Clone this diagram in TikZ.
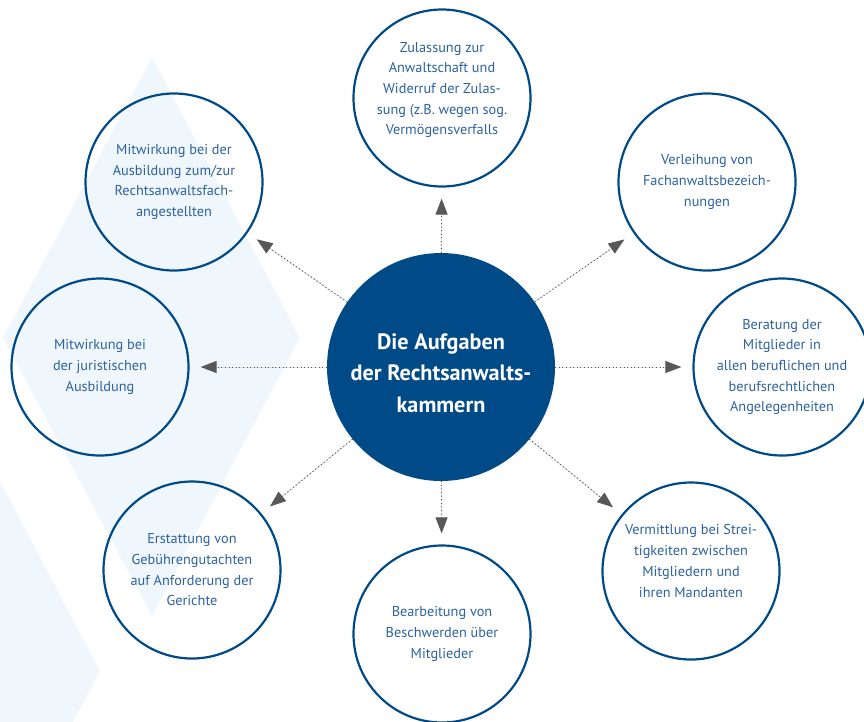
\documentclass[tikz,border=0pt]{standalone}
\usepackage{fontspec}
\setmainfont{PT Sans}
\usepackage{tikz}
\usetikzlibrary{arrows.meta}

\definecolor{rakblue}{RGB}{0,75,135}
\definecolor{tasktext}{RGB}{45,98,158}
\definecolor{linegray}{RGB}{88,88,88}
\definecolor{bgblue}{RGB}{239,247,252}

\newcommand{\taskfont}{\fontsize{14.3}{20.7}\selectfont}
\newcommand{\hubfont}{\fontsize{22.2}{31.7}\selectfont\bfseries}

\begin{document}
\begin{tikzpicture}
		[x=1pt,y=-1pt,
		 task/.style={circle,draw=rakblue,line width=2.2pt,minimum size=177pt,inner sep=0pt,
		   text=tasktext,font=\taskfont,align=center},
		 tasklabel/.style={text=tasktext,font=\taskfont,align=center,inner sep=0pt},
		 hub/.style={circle,fill=rakblue,minimum size=228pt,inner sep=0pt},
		 hublabel/.style={text=white,font=\hubfont,align=center,inner sep=0pt},
		 edge/.style={->,> = {Triangle[length=16pt,width=12pt]},draw=linegray,fill=linegray,
		   line width=1pt,dash pattern=on 1pt off 2.6pt,shorten >=11pt}]
		\useasboundingbox (0,0) rectangle (864,721);
		% background
		\begin{scope}
		\clip (0,0) rectangle (864,721);
		\fill[bgblue] (152,57) -- (300,338) -- (152,616) -- (3,338) -- cycle;
		\fill[bgblue] (-48,390) -- (100,671) -- (-48,952) -- (-196,671) -- cycle;
		\end{scope}
		
		\node[hub,label={[hublabel,yshift=-6pt]center:{Die Aufgaben\\der Rechtsanwalts-\\kammern}}] (hub) at (441,367) {};
		\node[task,label={[tasklabel,yshift=8pt]center:{Zulassung zur\\Anwaltschaft und\\Widerruf der Zulas-\\sung (z.B. wegen sog.\\Vermögensverfalls}}] (zul) at (442,98) {};
		\node[task] (fach) at (707,182) {Verleihung von\\Fachanwaltsbezeich-\\nungen};
		\node[task] (ber) at (782,367) {Beratung der\\Mitglieder in\\allen beruflichen und\\berufsrechtlichen\\Angelegenheiten};
		\node[task,label={[tasklabel,yshift=10pt]center:{Vermittlung bei Strei-\\tigkeiten zwischen\\Mitgliedern und\\ihren Mandanten}}] (verm) at (691,571) {};
		\node[task] (beschw) at (442,634) {Bearbeitung von\\Beschwerden über\\Mitglieder};
		\node[task] (gebuehr) at (192,570) {Erstattung von\\Gebührengutachten\\auf Anforderung der\\Gerichte};
		\node[task] (jur) at (100,367) {Mitwirkung bei\\der juristischen\\Ausbildung};
		\node[task] (ausb) at (174,182) {Mitwirkung bei der\\Ausbildung zum/zur\\Rechtsanwaltsfach-\\angestellten};
		
		\foreach \to in {zul,fach,ber,verm,beschw,gebuehr,jur,ausb}
		\draw[edge] (hub) -- (\to);
\end{tikzpicture}
\end{document}
